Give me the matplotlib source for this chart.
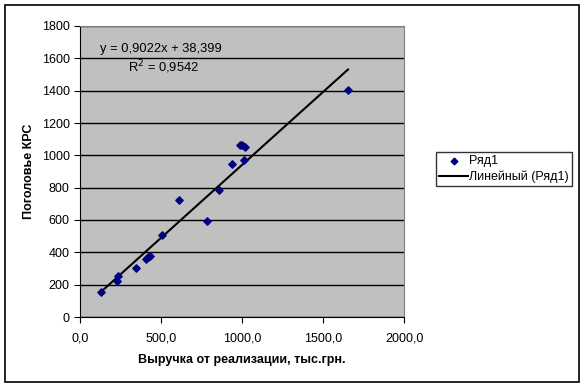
import numpy as np
import matplotlib.pyplot as plt
from matplotlib.patches import Rectangle

plt.rcParams['font.family'] = ['Liberation Sans', 'DejaVu Sans']

# data
revenue = [128, 235, 231, 346, 407, 420, 432, 504, 611, 784, 858, 938, 990, 1002, 1021, 1014, 1654]
cattle = [153, 254, 225, 305, 361, 369, 377, 509, 726, 596, 786, 949, 1066, 1062, 1052, 973, 1404]
slope = 0.9022
intercept = 38.399
r2 = 0.9542
y_ticks = [0, 200, 400, 600, 800, 1000, 1200, 1400, 1600, 1800]
x_ticks = [0, 500, 1000, 1500, 2000]

fig = plt.figure(figsize=(5.85, 3.88), dpi=100)
ax = fig.add_axes([80 / 585, 1 - 317 / 388, 324 / 585, 291 / 388])
ax.set_facecolor('#c0c0c0')

ax.scatter(revenue, cattle, marker='D', s=14, color='#000080', zorder=3, label='Ряд1')
xs = np.array([min(revenue), max(revenue)])
ax.plot(xs, slope * xs + intercept, color='black', lw=1.5, zorder=2, label='Линейный (Ряд1)')

ax.set_xlim(0, 2000)
ax.set_ylim(0, 1800)
ax.set_xticks(x_ticks)
ax.set_xticklabels([f'{v:.1f}'.replace('.', ',') for v in x_ticks])
ax.set_yticks(y_ticks)
ax.yaxis.grid(True, color='black', lw=1)
ax.set_axisbelow(True)
ax.tick_params(direction='out', length=4, labelsize=9, colors='black')
ax.tick_params(axis='x', pad=7)
for side in ['top', 'right']:
    ax.spines[side].set_color('#808080')
for side in ['left', 'bottom']:
    ax.spines[side].set_color('black')

ax.set_xlabel('Выручка от реализации, тыс.грн.', fontsize=9, fontweight='bold', labelpad=7)
ax.set_ylabel('Поголовье КРС', fontsize=9, fontweight='bold', labelpad=5)

ax.text(0.062, 0.921, f'y = {slope:.4f}x + {intercept:.3f}'.replace('.', ','),
        transform=ax.transAxes, fontsize=9.3, va='center')
ax.text(0.148, 0.857, f'R$^2$ = {r2:.4f}'.replace('.', ','),
        transform=ax.transAxes, fontsize=9.3, va='center')

leg = fig.legend(loc='upper left', bbox_to_anchor=(436 / 585, 1 - 152 / 388),
                 borderaxespad=0, fontsize=9, frameon=True, fancybox=False, borderpad=0.25,
                 handlelength=2.3, handletextpad=0.1, markerscale=0.9, labelspacing=0.3)
leg.get_frame().set_edgecolor('black')
leg.get_frame().set_linewidth(1)

fig.patches.append(Rectangle((5 / 585, 1 - 382 / 388), 574 / 585, 377 / 388,
                             transform=fig.transFigure, fill=False, edgecolor='black', lw=1.2))

fig.savefig('out.png', dpi=100)
